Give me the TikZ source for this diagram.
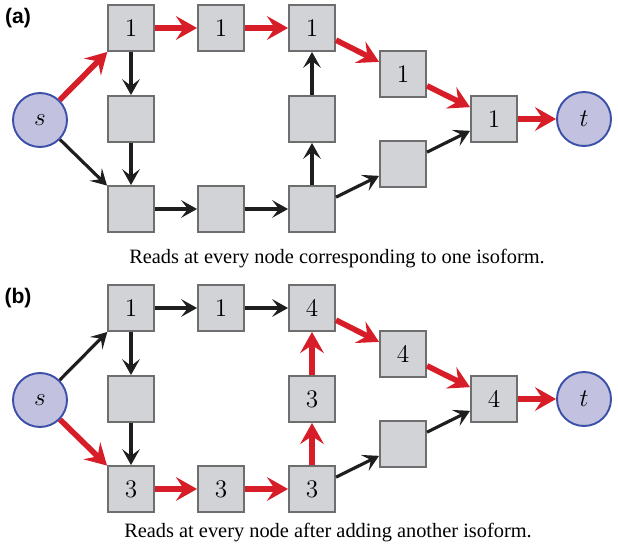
\documentclass[tikz,border=0pt]{standalone}
\usepackage{fontspec}
\setmainfont{Liberation Serif}
\newfontfamily\panelfont{Liberation Sans}
\usetikzlibrary{arrows.meta}
\definecolor{boxfill}{HTML}{D2D3D6}
\definecolor{boxgray}{HTML}{6E6E6E}
\definecolor{termfill}{HTML}{C2C2E0}
\definecolor{termblue}{HTML}{3C50AA}
\definecolor{isored}{HTML}{D71E28}
\definecolor{arrblack}{HTML}{1E1E1E}

\begin{document}
\begin{tikzpicture}[
    x=0.02cm, y=-0.02cm,
    box/.style={rectangle, draw=boxgray, fill=boxfill, line width=1.1pt,
                minimum size=0.92cm, inner sep=0pt, font=\Large},
    term/.style={circle, draw=termblue, fill=termfill, line width=1.1pt,
                 minimum size=1.08cm, inner sep=0pt, font=\Large},
    arr/.style={-{Stealth[length=9pt, width=10pt, inset=3.8pt]},
                line width=1.8pt, color=arrblack},
    hot/.style={-{Stealth[length=12pt, width=13.5pt, inset=4.5pt]},
                line width=3.2pt, color=isored},
    panel/.style={font=\panelfont\bfseries\large},
    caption/.style={font=\fontsize{11.6}{13}\selectfont}
  ]
    \useasboundingbox (0,0) rectangle (618,550);

    %% (a) one isoform
    \node[panel] (alab) at (18,18) {(a)};
    \node[term] (as) at (40,120) {$s$};
    \node[box] (aa1) at (131,28) {$1$};
    \node[box] (aa2) at (131,119) {};
    \node[box] (aa3) at (131,209) {};
    \node[box] (ab1) at (221,28) {$1$};
    \node[box] (ab3) at (221,209) {};
    \node[box] (ac1) at (312,28) {$1$};
    \node[box] (ac2) at (312,119) {};
    \node[box] (ac3) at (312,209) {};
    \node[box] (ad1) at (403,74) {$1$};
    \node[box] (ad2) at (403,164) {};
    \node[box] (ae) at (494,119) {$1$};
    \node[term] (at) at (584,119) {$t$};
    \node[caption] (acap) at (337,259) {Reads at every node corresponding to one isoform.};

    \draw[arr] (aa1) -- (aa2);
    \draw[arr] (aa2) -- (aa3);
    \draw[arr] (as) -- (aa3);
    \draw[arr] (aa3) -- (ab3);
    \draw[arr] (ab3) -- (ac3);
    \draw[arr] (ac3) -- (ac2);
    \draw[arr] (ac2) -- (ac1);
    \draw[arr] (ac3) -- (ad2);
    \draw[arr] (ad2) -- (ae);
    \draw[hot] (as) -- (aa1);
    \draw[hot] (aa1) -- (ab1);
    \draw[hot] (ab1) -- (ac1);
    \draw[hot] (ac1) -- (ad1);
    \draw[hot] (ad1) -- (ae);
    \draw[hot] (ae) -- (at);

    %% (b) another isoform added
    \node[panel] (blab) at (18,298) {(b)};
    \node[term] (bs) at (40,400) {$s$};
    \node[box] (ba1) at (131,308) {$1$};
    \node[box] (ba2) at (131,399) {};
    \node[box] (ba3) at (131,489) {$3$};
    \node[box] (bb1) at (221,308) {$1$};
    \node[box] (bb3) at (221,489) {$3$};
    \node[box] (bc1) at (312,308) {$4$};
    \node[box] (bc2) at (312,399) {$3$};
    \node[box] (bc3) at (312,489) {$3$};
    \node[box] (bd1) at (403,354) {$4$};
    \node[box] (bd2) at (403,444) {};
    \node[box] (be) at (494,399) {$4$};
    \node[term] (bt) at (584,399) {$t$};
    \node[caption] (bcap) at (328,533) {Reads at every node after adding another isoform.};

    \draw[arr] (bs) -- (ba1);
    \draw[arr] (ba1) -- (bb1);
    \draw[arr] (bb1) -- (bc1);
    \draw[arr] (ba1) -- (ba2);
    \draw[arr] (ba2) -- (ba3);
    \draw[arr] (bc3) -- (bd2);
    \draw[arr] (bd2) -- (be);
    \draw[hot] (bs) -- (ba3);
    \draw[hot] (ba3) -- (bb3);
    \draw[hot] (bb3) -- (bc3);
    \draw[hot] (bc3) -- (bc2);
    \draw[hot] (bc2) -- (bc1);
    \draw[hot] (bc1) -- (bd1);
    \draw[hot] (bd1) -- (be);
    \draw[hot] (be) -- (bt);
\end{tikzpicture}
\end{document}
